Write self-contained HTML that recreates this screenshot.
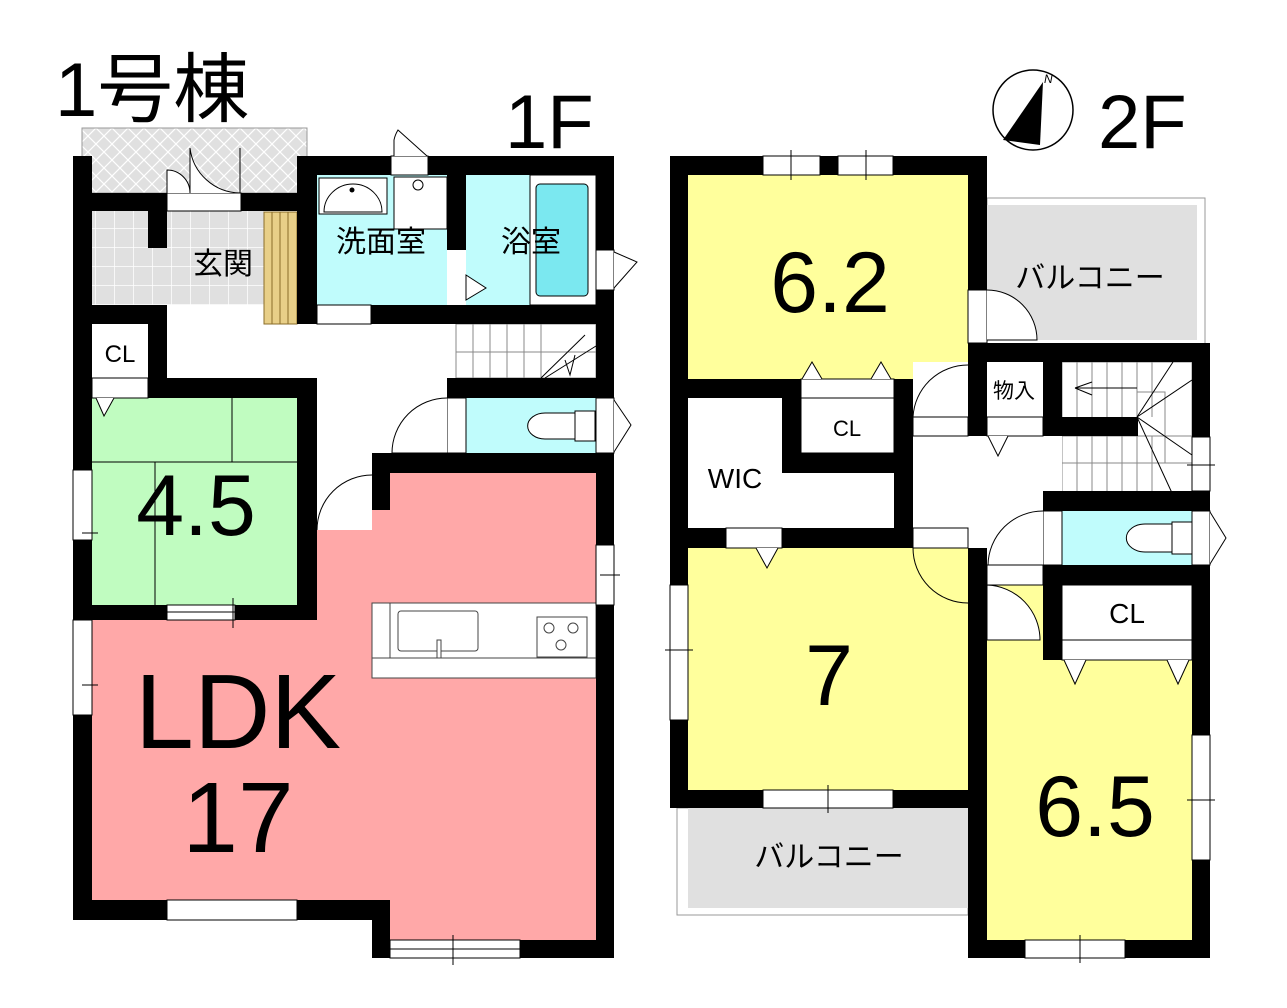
<!DOCTYPE html>
<html><head><meta charset="utf-8"><style>
html,body{margin:0;padding:0;background:#fff;}
svg{display:block;}
text{font-family:"Liberation Sans","Noto Sans CJK JP",sans-serif;fill:#000;}
</style></head><body>
<svg width="1287" height="1008" viewBox="0 0 1287 1008" xmlns="http://www.w3.org/2000/svg">
<defs>
<pattern id="hatch" width="16" height="16" patternUnits="userSpaceOnUse">
<rect width="16" height="16" fill="#e0e0e0"/>
<path d="M0 0L16 16M16 0L0 16" stroke="#fff" stroke-width="1.2"/>
</pattern>
<pattern id="tile" width="19" height="19" patternUnits="userSpaceOnUse">
<rect width="19" height="19" fill="#e0e0e0"/>
<path d="M0 0H19M0 0V19" stroke="#fff" stroke-width="1.5"/>
</pattern>
</defs>
<rect width="1287" height="1008" fill="#fff"/>

<!-- ============ 1F ============ -->
<rect x="82" y="128" width="225" height="65" fill="url(#hatch)" stroke="#999" stroke-width="1"/>
<rect x="92" y="210" width="172" height="95" fill="url(#tile)"/>
<rect x="264" y="212" width="33" height="112" fill="#e8cf88" stroke="#8a6d2a" stroke-width="1"/>
<path d="M272 212V324M280 212V324M288 212V324" stroke="#8a6d2a" stroke-width="1"/>
<rect x="317" y="175" width="130" height="130" fill="#c0fcfc"/>
<rect x="319" y="178" width="68" height="36" fill="#fff" stroke="#000" stroke-width="1"/>
<path d="M324 212 A29 28 0 0 1 382 212Z" fill="#fff" stroke="#000"/>
<circle cx="352" cy="190" r="2.5" fill="#000"/>
<rect x="394" y="177" width="53" height="52" fill="#fff" stroke="#000" stroke-width="1"/>
<circle cx="418" cy="185" r="5" fill="#fff" stroke="#000"/>
<rect x="466" y="175" width="130" height="130" fill="#c0fcfc"/>
<rect x="530" y="175" width="66" height="130" fill="#fff" stroke="#000" stroke-width="1"/>
<rect x="536" y="184" width="52" height="112" rx="4" fill="#7be8f0" stroke="#000"/>
<path d="M466 275 L486 288 L466 300Z" fill="#fff" stroke="#000"/>
<rect x="92" y="398" width="205" height="207" fill="#c0fcc0"/>
<path d="M92 462H297M232 398V462M155 462V605" stroke="#000" stroke-width="1"/>
<rect x="466" y="398" width="130" height="55" fill="#c0fcfc"/>
<path d="M575 413 H545 A16 12 0 0 0 545 439 H575Z" fill="#fff" stroke="#000"/>
<rect x="575" y="411" width="20" height="30" fill="#fff" stroke="#000"/>
<path d="M390 473 H596 V940 H390 V900 H92 V620 H317 V530 H372 V473Z" fill="#ffa8a8"/>
<rect x="317" y="473" width="55" height="57" fill="#fff"/>
<path d="M317 530 A55 55 0 0 1 372 475" fill="none" stroke="#000"/>
<rect x="372" y="603" width="224" height="75" fill="#fff" stroke="#444"/>
<path d="M372 658H596M390 603V658" stroke="#444"/>
<rect x="398" y="611" width="80" height="40" rx="3" fill="#fff" stroke="#444"/>
<rect x="437" y="640" width="4" height="18" fill="#fff" stroke="#444"/>
<rect x="537" y="617" width="50" height="40" fill="#fff" stroke="#444"/>
<circle cx="549" cy="628" r="5" fill="none" stroke="#444"/><circle cx="573" cy="628" r="5" fill="none" stroke="#444"/><circle cx="561" cy="645" r="5" fill="none" stroke="#444"/>
<g stroke="#888" stroke-width="1" fill="none">
<rect x="456" y="324" width="140" height="54"/>
<path d="M456 352H596M473 324V378M490 324V378M507 324V378M524 324V378M541 324V378"/>
</g>
<path d="M541 378 L585 335 M545 378 L596 346 M565 360 L570 375 L575 355" stroke="#000" fill="none"/>

<g fill="#000">
<rect x="73" y="156" width="19" height="764"/>
<rect x="73" y="193" width="94" height="18"/>
<rect x="241" y="193" width="66" height="18"/>
<rect x="148" y="210" width="19" height="38"/>
<rect x="73" y="305" width="94" height="19"/>
<rect x="297" y="156" width="20" height="168"/>
<rect x="297" y="156" width="94" height="19"/>
<rect x="428" y="156" width="186" height="19"/>
<rect x="447" y="156" width="19" height="94"/>
<rect x="371" y="305" width="243" height="19"/>
<rect x="596" y="156" width="18" height="802"/>
<rect x="148" y="324" width="19" height="74"/>
<rect x="148" y="378" width="169" height="20"/>
<rect x="297" y="378" width="20" height="242"/>
<rect x="447" y="378" width="167" height="20"/>
<rect x="372" y="453" width="242" height="20"/>
<rect x="372" y="453" width="18" height="57"/>
<rect x="73" y="605" width="94" height="15"/>
<rect x="235" y="605" width="82" height="15"/>
<rect x="73" y="900" width="94" height="20"/>
<rect x="297" y="900" width="93" height="20"/>
<rect x="372" y="900" width="18" height="58"/>
<rect x="520" y="940" width="94" height="18"/>
</g>
<g fill="#fff" stroke="#000" stroke-width="1">
<rect x="391" y="156" width="37" height="19"/>
<path d="M394 156 V140 A30 30 0 0 1 398 130 L427 156"/>
<rect x="167" y="193" width="74" height="18"/>
<path d="M167 193 V170 A23 23 0 0 1 190 193 M190 193 V148 A51 51 0 0 0 240 193"/>
<path d="M240 148 V193"/>
<rect x="317" y="305" width="54" height="19"/>
<rect x="92" y="378" width="56" height="20"/>
<path d="M96 398 L104 416 L114 398"/>
<rect x="73" y="470" width="19" height="70"/>
<rect x="73" y="620" width="19" height="95"/>
<rect x="167" y="605" width="68" height="15"/>
<rect x="596" y="545" width="18" height="60"/>
<rect x="167" y="900" width="130" height="20"/>
<rect x="390" y="940" width="130" height="18"/>
<rect x="447" y="398" width="19" height="55"/>
<path d="M447 398 A55 55 0 0 0 392 453 H447"/>
<rect x="596" y="250" width="18" height="40"/>
<path d="M614 252 L637 262 L614 288"/>
<rect x="596" y="398" width="18" height="55"/>
<path d="M614 400 L631 425 L614 452"/>
</g>
<g stroke="#000" stroke-width="1">
<path d="M233 598V628M166 612H235M82 533H98M82 685H98M453 935V965M390 949H520M600 575H620"/>
</g>
<path d="M372 313H447" stroke="#000" stroke-dasharray="3,2"/>

<text x="55" y="116" font-size="76">1号棟</text>
<text x="505" y="148" font-size="76">1F</text>
<text x="223" y="274" font-size="30" text-anchor="middle">玄関</text>
<text x="381" y="252" font-size="30" text-anchor="middle">洗面室</text>
<text x="531" y="252" font-size="30" text-anchor="middle">浴室</text>
<text x="120" y="362" font-size="24" text-anchor="middle">CL</text>
<text x="196" y="535" font-size="86" text-anchor="middle">4.5</text>
<text x="238" y="748" font-size="106" text-anchor="middle">LDK</text>
<text x="238" y="852" font-size="100" text-anchor="middle">17</text>

<!-- ============ 2F ============ -->
<rect x="987" y="198" width="218" height="147" fill="none" stroke="#999"/>
<rect x="987" y="205" width="210" height="135" fill="#e0e0e0"/>
<rect x="677" y="808" width="291" height="107" fill="none" stroke="#999"/>
<rect x="688" y="808" width="280" height="100" fill="#e0e0e0"/>
<rect x="688" y="175" width="280" height="205" fill="#ffff9c"/>
<rect x="688" y="548" width="280" height="242" fill="#ffff9c"/>
<path d="M987 565 H1043 V585 H1192 V940 H987Z" fill="#ffff9c"/>
<rect x="1062" y="511" width="130" height="54" fill="#c0fcfc"/>
<path d="M1172 524 H1145 A16 12 0 0 0 1145 552 H1172Z" fill="#fff" stroke="#000"/>
<rect x="1172" y="522" width="20" height="32" fill="#fff" stroke="#000"/>
<g stroke="#888" stroke-width="1" fill="none">
<rect x="1062" y="362" width="130" height="131"/>
<path d="M1077 362V417M1092 362V417M1107 362V417M1122 362V417M1137 362V417M1152 362V417M1062 436H1192M1062 463H1192M1077 436V493M1092 436V493M1107 436V493M1122 436V493M1137 436V493M1152 436V493M1137 392H1165V463"/>
</g>
<path d="M1137 417 L1173 362 M1137 417 L1192 380 M1137 417 L1192 455 M1137 417 L1172 493 M1075 388 L1092 382 M1075 388 L1092 395 M1075 388 H1137" stroke="#000" fill="none" stroke-width="1"/>
<g fill="#000">
<rect x="670" y="156" width="18" height="652"/>
<rect x="670" y="156" width="93" height="19"/>
<rect x="820" y="156" width="18" height="19"/>
<rect x="893" y="156" width="94" height="19"/>
<rect x="968" y="156" width="19" height="134"/>
<rect x="670" y="379" width="131" height="19"/>
<rect x="894" y="379" width="19" height="169"/>
<rect x="782" y="398" width="19" height="75"/>
<rect x="782" y="453" width="131" height="20"/>
<rect x="670" y="528" width="56" height="20"/>
<rect x="782" y="528" width="131" height="20"/>
<rect x="968" y="343" width="242" height="19"/>
<rect x="968" y="343" width="19" height="93"/>
<rect x="1043" y="343" width="19" height="93"/>
<rect x="1043" y="417" width="95" height="19"/>
<rect x="1192" y="343" width="18" height="94"/>
<rect x="1043" y="491" width="167" height="20"/>
<rect x="1043" y="565" width="167" height="20"/>
<rect x="1043" y="565" width="19" height="95"/>
<rect x="1192" y="565" width="18" height="170"/>
<rect x="1192" y="860" width="18" height="98"/>
<rect x="968" y="548" width="19" height="410"/>
<rect x="670" y="790" width="93" height="18"/>
<rect x="893" y="790" width="94" height="18"/>
<rect x="968" y="940" width="57" height="18"/>
<rect x="1125" y="940" width="85" height="18"/>
</g>
<!-- hallway white regions -->
<rect x="913" y="362" width="55" height="186" fill="#fff"/>
<rect x="987" y="436" width="75" height="55" fill="#fff"/>
<g fill="#fff" stroke="#000" stroke-width="1">
<rect x="763" y="156" width="57" height="19"/>
<rect x="838" y="156" width="55" height="19"/>
<rect x="968" y="290" width="19" height="53"/>
<path d="M987 290 A50 50 0 0 1 1037 340 H987"/>
<rect x="801" y="379" width="93" height="19"/>
<path d="M802 379 L812 362 L822 379 M871 379 L881 362 L891 379"/>
<rect x="801" y="398" width="93" height="55"/>
<rect x="726" y="528" width="56" height="20"/>
<path d="M756 548 L767 568 L778 548"/>
<rect x="913" y="417" width="55" height="19"/>
<path d="M968 365 A55 55 0 0 0 913 417" fill="none"/>
<rect x="913" y="528" width="55" height="20"/>
<path d="M913 548 A55 55 0 0 0 968 603" fill="none"/>
<rect x="987" y="417" width="56" height="19"/>
<path d="M988 436 L998 456 L1008 436"/>
<rect x="1043" y="511" width="19" height="54"/>
<path d="M1043 511 A55 55 0 0 0 988 565 H1043"/>
<rect x="1192" y="511" width="18" height="54"/>
<path d="M1210 512 L1226 538 L1210 564"/>
<rect x="987" y="565" width="56" height="20"/>
<path d="M987 585 A55 55 0 0 1 1040 640 H987Z"/>
<rect x="1062" y="585" width="130" height="55"/>
<rect x="1062" y="640" width="130" height="20"/>
<path d="M1064 660 L1075 684 L1086 660 M1167 660 L1178 684 L1189 660"/>
<rect x="1192" y="437" width="18" height="54"/>
<rect x="670" y="585" width="18" height="135"/>
<rect x="1192" y="735" width="18" height="125"/>
<rect x="763" y="790" width="130" height="18"/>
<rect x="1025" y="940" width="100" height="18"/>
</g>
<g stroke="#000" stroke-width="1">
<path d="M791 150V180M866 150V180M665 650H693M828 785V813M1187 800H1215M1080 935V963M1187 465H1215"/>
</g>
<circle cx="1033" cy="110" r="40" fill="#fff" stroke="#000" stroke-width="1.5"/>
<path d="M1043 82 L1003 140 L1040 145Z" fill="#000"/>
<text x="1044" y="83" font-size="12" font-style="italic">N</text>
<text x="1098" y="148" font-size="76">2F</text>
<text x="830" y="312" font-size="86" text-anchor="middle">6.2</text>
<text x="1090" y="288" font-size="30" text-anchor="middle">バルコニー</text>
<text x="847" y="436" font-size="22" text-anchor="middle">CL</text>
<text x="735" y="488" font-size="28" text-anchor="middle">WIC</text>
<text x="1014" y="398" font-size="21" text-anchor="middle">物入</text>
<text x="1127" y="623" font-size="28" text-anchor="middle">CL</text>
<text x="829" y="705" font-size="86" text-anchor="middle">7</text>
<text x="1095" y="836" font-size="86" text-anchor="middle">6.5</text>
<text x="829" y="867" font-size="30" text-anchor="middle">バルコニー</text>
</svg>
</body></html>
